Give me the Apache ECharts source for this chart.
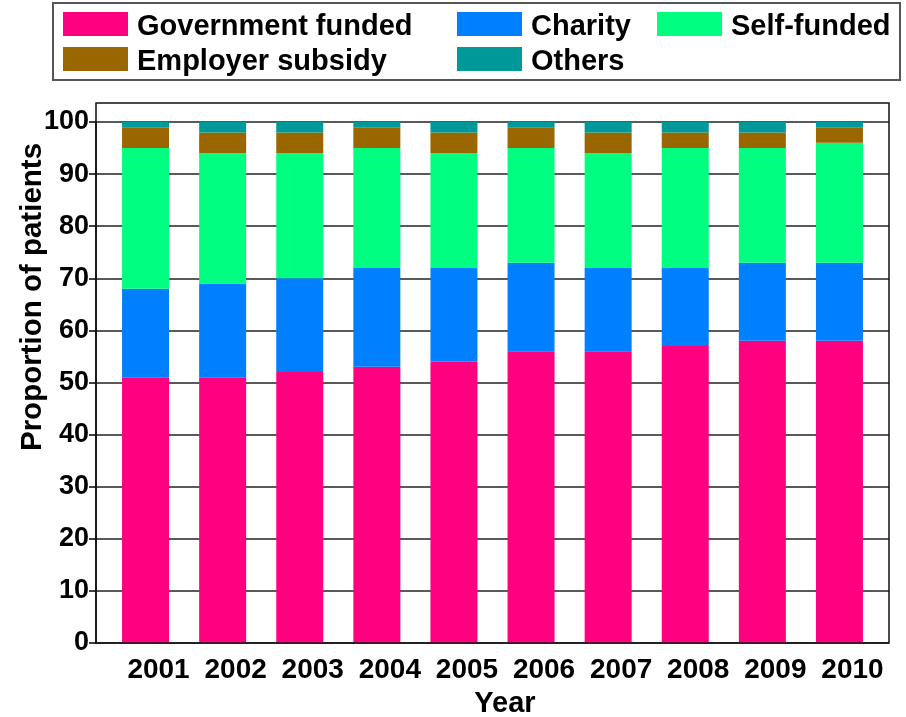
<!DOCTYPE html>
<html>
<head>
<meta charset="utf-8">
<script src="https://cdn.jsdelivr.net/npm/echarts@6/dist/echarts.min.js"></script>
<style>html,body{margin:0;padding:0;background:#fff}#c{width:906px;height:717px}</style>
</head>
<body>
<div id="c"></div>
<script>
const years = ['2001','2002','2003','2004','2005','2006','2007','2008','2009','2010'];
const government = [51,51,52,53,54,56,56,57,58,58];
const charity = [17,18,18,19,18,17,16,15,15,15];
const selfFunded = [27,25,24,23,22,22,22,23,22,23];
const employer = [4,4,4,4,4,4,4,3,3,3];
const others = [1,2,2,1,2,1,2,2,2,1];
const yTicks = [0,10,20,30,40,50,60,70,80,90,100];

const FONT = 'Liberation Sans, Arial, sans-serif';
const names = ['Government funded','Charity','Self-funded','Employer subsidy','Others'];
const colors = ['#FF0080','#0080FF','#00FF80','#996600','#009999'];
const values = [government, charity, selfFunded, employer, others];

const chart = echarts.init(document.getElementById('c'));
const legendCommon = {
  orient: 'vertical', top: 12, itemWidth: 65, itemHeight: 30, itemGap: 5,
  padding: 0, icon: 'path://M0,0L65,0L65,24L0,24Z M0,30L0.01,30', selectedMode: false,
  textStyle: {fontFamily: FONT, fontWeight: 'bold', fontSize: 29, lineHeight: 29, color: '#000', padding: [0,0,0,4]}
};
chart.setOption({
  animation: false,
  backgroundColor: '#fff',
  color: colors,
  legend: [
    Object.assign({left: 63, data: [names[0], names[3]]}, legendCommon),
    Object.assign({left: 457, data: [names[1], names[4]]}, legendCommon),
    Object.assign({left: 657, data: [names[2]]}, legendCommon)
  ],
  grid: [
    {left: 96, right: 17, top: 122, bottom: 74},
    {left: 107, right: 28, top: 122, bottom: 74}
  ],
  xAxis: [
    {gridIndex: 0, type: 'value', min: 0, max: 1, show: false},
    {gridIndex: 1, type: 'category', data: years,
     axisLine: {show: false}, axisTick: {show: false},
     axisLabel: {interval: 0, fontFamily: FONT, fontWeight: 'bold', fontSize: 28, color: '#000', margin: 13, padding: [0,0,0,26]}}
  ],
  yAxis: [
    {gridIndex: 0, type: 'value', min: 0, max: 100, interval: 10,
     axisLine: {show: true, lineStyle: {color: '#000', width: 1.5}},
     axisTick: {show: true, length: 7, lineStyle: {color: '#000', width: 1.5}},
     axisLabel: {fontFamily: FONT, fontWeight: 'bold', fontSize: 27, color: '#000', margin: 7,
       formatter: v => yTicks.indexOf(v) >= 0 ? String(v) : ''},
     splitLine: {show: true, lineStyle: {color: '#222', width: 1.5}}},
    {gridIndex: 1, type: 'value', min: 0, max: 100, show: false}
  ],
  series: names.map((n, i) => ({
    name: n, type: 'bar', stack: 'total', xAxisIndex: 1, yAxisIndex: 1,
    barWidth: 47, data: values[i], itemStyle: {color: colors[i]}
  })),
  graphic: [
    {type: 'rect', shape: {x: 53, y: 3, width: 847, height: 77}, style: {fill: 'none', stroke: '#555', lineWidth: 2}, z: 100},
    {type: 'rect', shape: {x: 96, y: 103, width: 793, height: 540}, style: {fill: 'none', stroke: '#111', lineWidth: 1.5}, z: 100},
    {type: 'text', x: 33, y: 297, rotation: Math.PI/2,
     style: {text: 'Proportion of patients', fontFamily: FONT, fontWeight: 'bold', fontSize: 29.5, fill: '#000', align: 'center', verticalAlign: 'middle'}, z: 100},
    {type: 'text', x: 505, y: 704,
     style: {text: 'Year', fontFamily: FONT, fontWeight: 'bold', fontSize: 29, fill: '#000', align: 'center', verticalAlign: 'middle'}, z: 100}
  ]
});
</script>
</body>
</html>
